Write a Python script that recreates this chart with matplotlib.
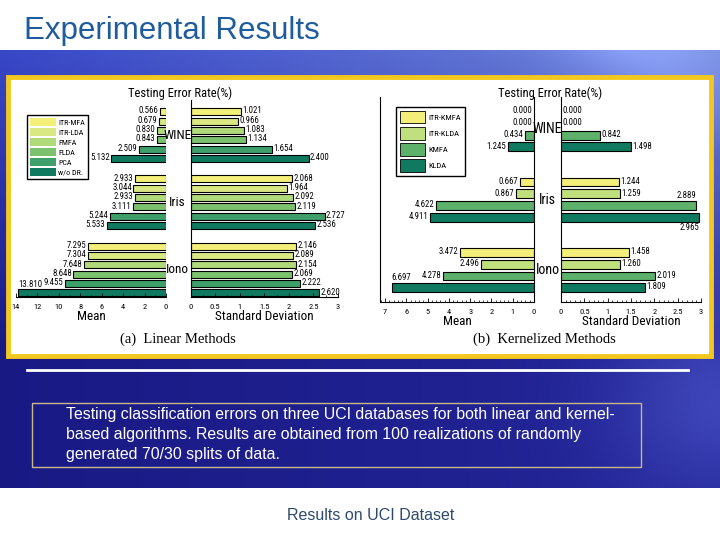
import numpy as np
import matplotlib
matplotlib.use("Agg")
import matplotlib.pyplot as plt
from matplotlib.patches import Rectangle
from matplotlib.ticker import MultipleLocator, FormatStrFormatter

NARROW = ['Roboto Condensed', 'Archivo Narrow', 'PT Sans Narrow', 'Liberation Sans Narrow', 'DejaVu Sans']

# linear methods (a)
lin_methods = ['ITR-MFA', 'ITR-LDA', 'FMFA', 'FLDA', 'PCA', 'w/o DR.']
lin_colors = ['#f4ef78', '#d9e883', '#b0d97a', '#7cc26e', '#3f9f6a', '#0f7a5f']
datasets = ['WINE', 'Iris', 'Iono']
lin_mean = [
    [0.566, 0.679, 0.830, 0.843, 2.509, 5.132],
    [2.933, 3.044, 2.933, 3.111, 5.244, 5.533],
    [7.295, 7.304, 7.648, 8.648, 9.455, 13.810],
]
lin_std = [
    [1.021, 0.966, 1.083, 1.134, 1.654, 2.400],
    [2.068, 1.964, 2.092, 2.119, 2.727, 2.536],
    [2.146, 2.089, 2.154, 2.069, 2.222, 2.620],
]

# kernelized methods (b)
ker_methods = ['ITR-KMFA', 'ITR-KLDA', 'KMFA', 'KLDA']
ker_colors = ['#f4ef78', '#bfe07d', '#5db16a', '#0f7a5f']
ker_mean = [
    [0.000, 0.000, 0.434, 1.245],
    [0.667, 0.867, 4.622, 4.911],
    [3.472, 2.496, 4.278, 6.697],
]
ker_std = [
    [0.000, 0.000, 0.842, 1.498],
    [1.244, 1.259, 2.889, 2.965],
    [1.458, 1.260, 2.019, 1.809],
]

W, H = 720, 540
fig = plt.figure(figsize=(7.2, 5.4), dpi=100)


def px_axes(left, top, right, bottom):
    return fig.add_axes([left / W, 1 - bottom / H, (right - left) / W, (bottom - top) / H])


def fig_text(x, y, s, **kw):
    # text placed in slide pixels, drawn above every axes
    fig.text(x / W, 1 - y / H, s, **kw)


# ---- slide background ----
bg = px_axes(0, 0, W, H)
bg.set_xlim(0, W)
bg.set_ylim(H, 0)
bg.axis('off')

yy, xx = np.mgrid[0:438, 0:720]
fy = yy / 437.0
fx = xx / 719.0
top_c = np.array([0.22, 0.28, 0.78]) * (1 - fx[..., None]) + np.array([0.45, 0.54, 0.86]) * fx[..., None]
bot_c = np.array([0.10, 0.10, 0.52]) * (1 - fx[..., None]) + np.array([0.14, 0.15, 0.60]) * fx[..., None]
t = np.clip(fy * 1.5, 0, 1)[..., None]
img = top_c * (1 - t) + bot_c * t
streak = np.exp(-((xx - 640 - yy * 0.8) / 80.0) ** 2) * np.clip(1 - fy * 4, 0, 1)
img = img + streak[..., None] * 0.12
corner = np.exp(-(((xx - 720) / 110.0) ** 2 + ((yy - 350) / 90.0) ** 2))
img = img + corner[..., None] * np.array([0.10, 0.12, 0.12])
bg.imshow(np.clip(img, 0, 1), extent=(0, 720, 488, 50), aspect='auto', zorder=0)

bg.text(24, 31, 'Experimental Results', color='#1f5c9e', fontsize=22.5,
        family='Liberation Sans', va='center', ha='left')

# yellow framed white panel
bg.add_patch(Rectangle((8, 77), 703, 279, facecolor='white', edgecolor='#f2c81e', lw=3.5, zorder=1))
# white rule
bg.plot([27, 688], [370, 370], color='white', lw=2, zorder=1)
# caption box
bg.add_patch(Rectangle((32, 403), 609, 64, facecolor='none', edgecolor='#c8b88a', lw=1, zorder=1))
cap_lines = ['Testing classification errors on three UCI databases for both linear and kernel-',
             'based algorithms. Results are obtained from 100 realizations of randomly',
             'generated 70/30 splits of data.']
for k, line in enumerate(cap_lines):
    bg.text(66, 415 + k * 19.5, line, color='white', fontsize=11.4,
            family='Liberation Sans', va='center', ha='left')
bg.text(371, 515, 'Results on UCI Dataset', color='#2c4a6e', fontsize=11.5,
        family='Liberation Sans', va='center', ha='center')

# panel titles / captions
for cx, cap in [(178, '(a)  Linear Methods'), (544, '(b)  Kernelized Methods')]:
    bg.text(cx, 339, cap, fontsize=10.5, family=['Liberation Serif', 'DejaVu Serif'],
            va='center', ha='center', zorder=2)
for cx in [180, 550]:
    bg.text(cx, 93, 'Testing Error Rate(%)', fontsize=9, family=NARROW,
            va='center', ha='center', zorder=2)


def style_axis(ax, side):
    ax.set_facecolor('none')
    for s in ['top', 'right', 'left']:
        ax.spines[s].set_visible(False)
    ax.spines['bottom'].set_linewidth(0.8)
    if side == 'std':
        ax.spines['left'].set_visible(True)
        ax.spines['left'].set_linewidth(0.8)
    ax.set_yticks([])
    ax.xaxis.set_major_formatter(FormatStrFormatter('%g'))
    ax.tick_params(axis='x', direction='in', length=3, width=0.6, labelsize=6, pad=5)
    ax.tick_params(axis='x', which='minor', direction='in', length=1.8, width=0.5)
    for lb in ax.get_xticklabels():
        lb.set_family(NARROW)


def draw_side(ax, values, colors, gpitch, xmax, side):
    for g, vals in enumerate(values):
        for i, v in enumerate(vals):
            y = g * gpitch + i
            if v > 0:
                ax.barh(y, v, height=0.75, color=colors[i], edgecolor='black', lw=0.8)
            lab = '%.3f' % v
            if v > 0.92 * xmax:
                prev_long = i > 0 and vals[i - 1] > 0.85 * xmax
                ty = y + 0.5 if prev_long else y - 0.45
                ax.text(v, ty, lab, fontsize=6.3, family=NARROW,
                        ha='left' if side == 'mean' else 'right',
                        va='top' if prev_long else 'bottom')
            else:
                dx = -1 if side == 'mean' else 1
                ax.annotate(lab, (v, y), xytext=(dx, 0.5), textcoords='offset points',
                            fontsize=6.3, family=NARROW, va='center',
                            ha='right' if side == 'mean' else 'left')


def add_xlabel(ax, text):
    ax.set_xlabel(text, fontsize=9.5, family=NARROW, labelpad=0)


# ---- (a) linear ----
lin_g = 7.2
lin_ylim = (19.85, -1.25)
ax1 = px_axes(16, 100, 166, 297)
draw_side(ax1, lin_mean, lin_colors, lin_g, 14, 'mean')
ax1.set_xlim(14, 0)
ax1.set_ylim(*lin_ylim)
ax1.xaxis.set_major_locator(MultipleLocator(2))
ax1.xaxis.set_minor_locator(MultipleLocator(1))
style_axis(ax1, 'mean')
add_xlabel(ax1, 'Mean')

ax2 = px_axes(190.5, 100, 338, 297)
draw_side(ax2, lin_std, lin_colors, lin_g, 3, 'std')
ax2.set_xlim(0, 3)
ax2.set_ylim(*lin_ylim)
ax2.xaxis.set_major_locator(MultipleLocator(0.5))
ax2.xaxis.set_minor_locator(MultipleLocator(0.25))
style_axis(ax2, 'std')
add_xlabel(ax2, 'Standard Deviation')

for g, name in enumerate(datasets):
    yc = (g * lin_g + 2.5 - lin_ylim[1]) / (lin_ylim[0] - lin_ylim[1])
    fig_text(177.5, 100 + yc * 197, name, fontsize=9.5, family=NARROW, ha='center', va='center')

ax1.legend(handles=[Rectangle((0, 0), 1, 1, facecolor=c, edgecolor='none') for c in lin_colors],
           labels=lin_methods, loc='upper left', bbox_to_anchor=(27 / W, 1 - 115 / H),
           bbox_transform=fig.transFigure, fancybox=False, edgecolor='black', framealpha=1,
           prop={'family': NARROW, 'size': 5.8}, handlelength=3.2, handleheight=1.15,
           labelspacing=0.25, borderpad=0.4, handletextpad=0.3, borderaxespad=0)

# ---- (b) kernelized ----
ker_g = 6
ker_ylim = (16.22, -1.25)
ax3 = px_axes(380, 97, 534, 302)
draw_side(ax3, ker_mean, ker_colors, ker_g, 7.24, 'mean')
ax3.set_xlim(7.24, 0)
ax3.set_ylim(*ker_ylim)
ax3.xaxis.set_major_locator(MultipleLocator(1))
ax3.xaxis.set_minor_locator(MultipleLocator(0.2))
style_axis(ax3, 'mean')
for s in ['left', 'right']:
    ax3.spines[s].set_visible(True)
    ax3.spines[s].set_linewidth(0.8)
add_xlabel(ax3, 'Mean')

ax4 = px_axes(561, 97, 701, 302)
draw_side(ax4, ker_std, ker_colors, ker_g, 3, 'std')
ax4.set_xlim(0, 3)
ax4.set_ylim(*ker_ylim)
ax4.xaxis.set_major_locator(MultipleLocator(0.5))
ax4.xaxis.set_minor_locator(MultipleLocator(0.1))
style_axis(ax4, 'std')
add_xlabel(ax4, 'Standard Deviation')

for g, name in enumerate(datasets):
    yc = (g * ker_g + 1.5 - ker_ylim[1]) / (ker_ylim[0] - ker_ylim[1])
    fig_text(547.5, 97 + yc * 205, name, fontsize=10, family=NARROW, ha='center', va='center')

ax3.legend(handles=[Rectangle((0, 0), 1, 1, facecolor=c, edgecolor='black', lw=0.6) for c in ker_colors],
           labels=ker_methods, loc='upper left', bbox_to_anchor=(396 / W, 1 - 107 / H),
           bbox_transform=fig.transFigure, fancybox=False, edgecolor='black', framealpha=1,
           prop={'family': NARROW, 'size': 6}, handlelength=3.0, handleheight=1.9,
           labelspacing=0.45, borderpad=0.5, handletextpad=0.4, borderaxespad=0)

fig.savefig('out.png', dpi=100)
